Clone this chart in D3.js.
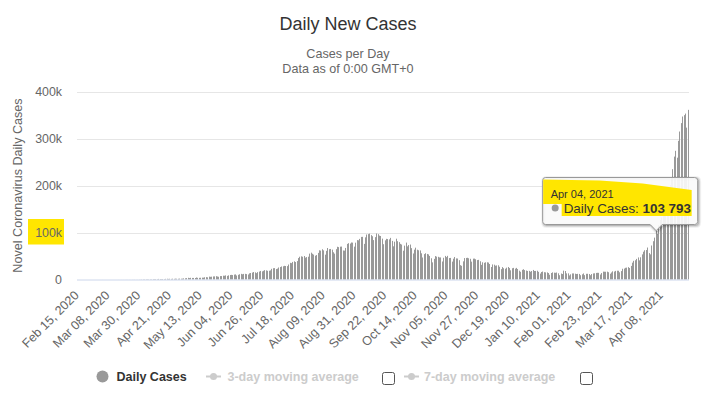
<!DOCTYPE html>
<html><head><meta charset="utf-8">
<script src="https://cdn.jsdelivr.net/npm/d3@7"></script>
<style>body{margin:0;background:#fff}svg{display:block}text{font-family:"Liberation Sans",Arial,sans-serif}</style>
</head><body><svg id="c" width="704" height="393"></svg>
<script>
// ---- data (daily new cases) ----
const startDate = "2020-02-15";
const feb2020 = [0,0,0,0,0,0,0,0,0,0,0,0,0,0,0];
const mar2020 = [0,2,1,22,2,1,3,5,9,15,8,10,10,12,22,12,23,14,38,50,86,66,103,37,121,70,160,100,112,227,146];
const apr2020 = [424,486,560,579,609,484,573,565,813,871,854,758,1243,1031,886,1061,922,1370,1580,1239,1537,1292,1667,1408,1835,1607,1561,1873,1738,1801];
const may2020 = [2396,2564,2952,3656,2971,3602,3344,3339,3175,4311,3592,3562,3726,3967,3942,4794,5049,4628,6154,5720,6023,6536,6667,7111,6414,5843,7293,7300,8105,7964,8789];
const jun2020 = [7723,8812,9633,9889,9471,10408,10882,8536,9982,11156,12023,11128,11929,12030,11502,10667,13103,13827,14740,15915,15183,13540,15656,16868,18205,17296,18552,19906,19459,18522];
const jul2020 = [18653,19428,22721,24018,24248,22252,23135,25571,26506,27756,28178,29108,28701,28498,31889,35468,34820,37407,38697,37148,39170,45601,48446,49310,48472,49981,46484,47703,48513,55078,57118];
const aug2020 = [54735,52972,50629,52050,56626,62170,61537,64399,62064,52844,60963,66999,64553,65002,63489,57981,55018,64531,69652,68898,69878,70067,61749,61408,67151,75760,77266,76472,78761,78512,69921];
const sep2020 = [78357,83883,83341,86432,90632,90802,75809,89706,95735,96551,97570,94372,92071,83809,90123,97894,96424,93337,92605,86961,75083,83347,86508,86052,85362,88600,82170,70589,80472,86821];
const oct2020 = [81484,79476,75829,74442,61267,72049,78524,70496,73272,74383,66732,55342,63509,67708,63371,62212,61871,55722,46790,54044,55839,54366,53370,50129,45149,36470,43893,49881,48648,48268,46963];
const nov2020 = [46964,38310,46253,50210,47638,50357,45674,45903,38073,44281,47905,44878,44684,41100,30548,29164,38617,45576,45882,46232,45209,44059,37975,44376,44489,43082,41322,41810,38772,31118];
const dec2020 = [36604,35551,36595,36652,36011,32981,26567,32080,31521,29398,30006,30254,27071,22065,26382,24010,22890,25152,26624,24337,19556,23950,24712,23067,24712,22273,18732,16432,20550,21822,20036];
const jan2021 = [19079,18177,18356,16504,18088,20346,18139,18222,18645,16311,12584,15968,16946,15590,15158,15144,13788,10064,13823,15223,14545,14256,14849,13203,9102,12689,11666,18855,18040,13083,13052];
const feb2021 = [8635,11039,12899,12923,12408,11713,12059,11831,9110,11067,12923,9309,12143,12194,11649,9121,11610,12881,13193,13993,14264,14199,10584,13742,16738,16577,16488,16752];
const mar2021 = [15510,12286,14989,17407,16838,18327,18711,18599,15388,17921,22854,23285,24882,25320,26291,24492,28903,35871,39726,40953,43846,46951,40715,47262,53476,59118,62258,62714,68020,56211,53480];
const apr2021 = [72330,81466,89129,103793,96982,115736,126789,131968,145384,152879,168912,161736,184372,200739,217353,234692,261500,273810,259170,295041,314835,332730,346786,349691,352991,323144,360960];

const tickLabels = ["Feb 15, 2020","Mar 08, 2020","Mar 30, 2020","Apr 21, 2020","May 13, 2020","Jun 04, 2020","Jun 26, 2020","Jul 18, 2020","Aug 09, 2020","Aug 31, 2020","Sep 22, 2020","Oct 14, 2020","Nov 05, 2020","Nov 27, 2020","Dec 19, 2020","Jan 10, 2021","Feb 01, 2021","Feb 23, 2021","Mar 17, 2021","Apr 08, 2021"];
const yTicks = [0,100000,200000,300000,400000];
const tooltipDate = "Apr 04, 2021";
const seriesName = "Daily Cases";
const legendItems = ["Daily Cases","3-day moving average","7-day moving average"];

// ---- build ----
const values = [].concat(feb2020,mar2020,apr2020,may2020,jun2020,jul2020,aug2020,sep2020,oct2020,nov2020,dec2020,jan2021,feb2021,mar2021,apr2021);
const fmt = d3.utcFormat("%b %d, %Y");
const start = d3.utcParse("%Y-%m-%d")(startDate);
const data = values.map((v,i)=>({label: fmt(d3.utcDay.offset(start,i)), value: v}));

const svg = d3.select("#c");
const L = 77, R = 689, T = 91.5, B = 279.5;
const x = d3.scaleBand().domain(data.map(d=>d.label)).range([L,R]).paddingInner(0).paddingOuter(0);
const y = d3.scaleLinear().domain([0,400000]).range([B,T]);

// title & subtitle
svg.append("text").attr("x",348).attr("y",29.5).attr("text-anchor","middle")
  .style("font-size","18px").attr("fill","#333").text("Daily New Cases");
svg.append("text").attr("x",348).attr("y",58).attr("text-anchor","middle")
  .style("font-size","12.6px").attr("fill","#666").text("Cases per Day");
svg.append("text").attr("x",348).attr("y",72.5).attr("text-anchor","middle")
  .style("font-size","12.6px").attr("fill","#666").text("Data as of 0:00 GMT+0");

// highlight for 100k label
svg.append("rect").attr("x",28).attr("y",219).attr("width",36).attr("height",25.5).attr("fill","#ffe600");

// grid
svg.append("g").selectAll("line").data(yTicks.filter(t=>t>0)).join("line")
  .attr("x1",L).attr("x2",R).attr("y1",d=>Math.round(y(d))+0.5).attr("y2",d=>Math.round(y(d))+0.5)
  .attr("stroke","#e6e6e6");

// y axis labels
const yAxis = svg.append("g").attr("transform",`translate(${L},0)`)
  .call(d3.axisLeft(y).tickValues(yTicks).tickSize(0).tickPadding(15)
    .tickFormat(d=> d===0 ? "0" : (d/1000)+"k"));
yAxis.select(".domain").remove();
yAxis.selectAll("text").style("font-size","12.4px").attr("fill","#666").style("font-family",'"Liberation Sans",Arial,sans-serif');

svg.append("text").attr("transform",`translate(22,${(T+B)/2}) rotate(-90)`).attr("text-anchor","middle")
  .style("font-size","12.6px").attr("fill","#666").text("Novel Coronavirus Daily Cases");

// bars
svg.append("g").selectAll("rect").data(data).join("rect")
  .attr("x",d=>Math.round(x(d.label)+x.bandwidth()/2-0.5))
  .attr("width",1)
  .attr("y",d=>y(d.value))
  .attr("height",d=>B-y(d.value))
  .attr("fill","#999");

// x axis line
svg.append("line").attr("x1",L).attr("x2",R).attr("y1",B+0.5).attr("y2",B+0.5).attr("stroke","#ccd6eb");

// x axis labels
const xAxis = svg.append("g").attr("transform",`translate(0,${B})`)
  .call(d3.axisBottom(x).tickValues(tickLabels).tickSize(0));
xAxis.select(".domain").remove();
xAxis.selectAll("text")
  .attr("x",0).attr("y",0).attr("dy",0)
  .attr("transform","translate(2,16.5) rotate(-45)")
  .attr("text-anchor","end")
  .style("font-size","12.6px").style("font-family",'"Liberation Sans",Arial,sans-serif')
  .attr("fill","#666");

// tooltip
const tip = data.find(d=>d.label===tooltipDate);
const ax = x(tip.label)+x.bandwidth()/2, ay = y(tip.value);
const bx = ax-113.5, by = 177.5, bw = 155, bh = 47, r = 3;
const path = `M${bx+r},${by} H${bx+bw-r} Q${bx+bw},${by} ${bx+bw},${by+r} V${by+bh-r} Q${bx+bw},${by+bh} ${bx+bw-r},${by+bh} H${ax+6} L${ax},${ay} L${ax-6},${by+bh} H${bx+r} Q${bx},${by+bh} ${bx},${by+bh-r} V${by+r} Q${bx},${by} ${bx+r},${by} Z`;
const tg = svg.append("g");
[5,3,1].forEach((w,i)=>tg.append("path").attr("d",path).attr("transform","translate(1,1)")
  .attr("fill","none").attr("stroke","#000").attr("stroke-opacity",0.05*(i+1)).attr("stroke-width",w));
tg.append("path").attr("d",path).attr("fill","rgba(250,250,250,0.92)").attr("stroke","#999").attr("stroke-width",1);
// marker highlight on tooltip
tg.append("path").attr("fill","#ffe600")
  .attr("d",`M${bx+0.5},${by+2} L${bx+57},${by+3} L${bx+100},${by+6} L${bx+149},${by+12.5} L${bx+149},${by+38.5} L${bx+19},${by+38.5} L${bx+19},${by+26.5} L${bx+0.5},${by+26.5} Z`);
tg.append("text").attr("x",bx+8).attr("y",by+20.5).style("font-size","11px").attr("fill","#333").text(tooltipDate);
tg.append("circle").attr("cx",bx+12.5).attr("cy",by+30.5).attr("r",3.5).attr("fill","#999");
const tl = tg.append("text").attr("x",bx+21).attr("y",by+35).style("font-size","13.4px").attr("fill","#333");
tl.append("tspan").text(seriesName+": ");
tl.append("tspan").style("font-weight","bold").text(d3.format(",")(tip.value).replace(/,/g," "));

// legend
const lg = svg.append("g").style("font-size","12.5px").style("font-weight","bold");
lg.append("circle").attr("cx",102.5).attr("cy",376.5).attr("r",6).attr("fill","#999");
lg.append("text").attr("x",116.5).attr("y",381).attr("fill","#333").text(legendItems[0]);
[[206,227.5,382.5],[404,424,580.5]].forEach((p,i)=>{
  lg.append("line").attr("x1",p[0]).attr("x2",p[0]+15).attr("y1",376.5).attr("y2",376.5).attr("stroke","#ccc").attr("stroke-width",2);
  lg.append("circle").attr("cx",p[0]+7.5).attr("cy",376.5).attr("r",3.5).attr("fill","#ccc");
  lg.append("text").attr("x",p[1]).attr("y",381).attr("fill","#ccc").text(legendItems[i+1]);
  lg.append("rect").attr("x",p[2]).attr("y",372.5).attr("width",12).attr("height",12).attr("rx",2)
    .attr("fill","#fff").attr("stroke","#555").attr("stroke-width",1);
});
</script></body></html>
